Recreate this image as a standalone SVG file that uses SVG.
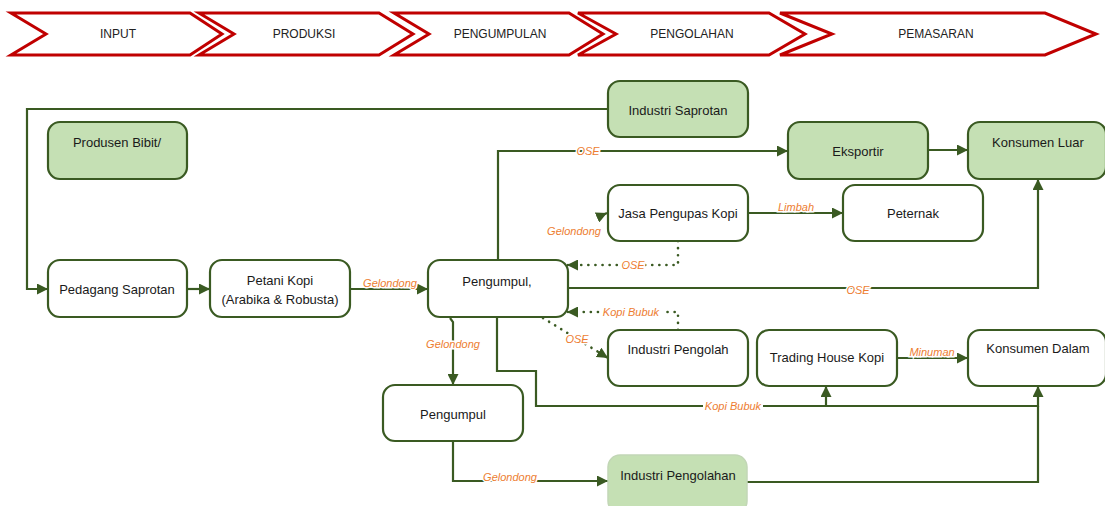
<svg xmlns="http://www.w3.org/2000/svg" width="1105" height="506" viewBox="0 0 1105 506">
<style>
.chev{fill:#fff;stroke:#C00000;stroke-width:3;stroke-linejoin:miter}
.ct{font-family:"Liberation Sans",Arial,sans-serif;font-size:12px;fill:#222;text-anchor:middle}
.box{fill:#fff;stroke:#3A5A22;stroke-width:2.2}
.gbox{fill:#C5E0B4;stroke:#3A5A22;stroke-width:2.2}
.nt{font-family:"Liberation Sans",Arial,sans-serif;font-size:13px;fill:#1a1a1a;text-anchor:middle}
.ln{fill:none;stroke:#3A5A22;stroke-width:2.2}
.dot{fill:none;stroke:#3A5A22;stroke-width:2.6;stroke-dasharray:0.1 7;stroke-linecap:round}
.lb{font-family:"Liberation Sans",Arial,sans-serif;font-size:11px;font-style:italic;fill:#ED7D31;text-anchor:middle;stroke:#fff;stroke-width:3;paint-order:stroke}
</style>
<defs>
<marker id="ah" markerWidth="11" markerHeight="11" refX="11" refY="5.5" orient="auto" markerUnits="userSpaceOnUse">
<path d="M0,0 L11,5.5 L0,11 z" fill="#3A5A22"/>
</marker>
</defs>
<rect width="1105" height="506" fill="#fff"/>
<g id="stages">
<polygon class="chev" points="11,13 190,13 222,34 190,55 11,55 46,34"/>
<text class="ct" x="118" y="38">INPUT</text>
<polygon class="chev" points="199,13 379,13 413,34 379,55 199,55 234,34"/>
<text class="ct" x="304" y="38">PRODUKSI</text>
<polygon class="chev" points="394,13 569,13 603,34 569,55 394,55 429,34"/>
<text class="ct" x="500" y="38">PENGUMPULAN</text>
<polygon class="chev" points="578,13 769,13 805,34 769,55 578,55 616,34"/>
<text class="ct" x="692" y="38">PENGOLAHAN</text>
<polygon class="chev" points="780,13 1045,13 1096,34 1045,55 780,55 832,34"/>
<text class="ct" x="936" y="38">PEMASARAN</text>
</g>
<g id="connectors">
<path class="ln" d="M608,109 H27 V289 H48" marker-end="url(#ah)"/>
<path class="ln" d="M187,289 H210" marker-end="url(#ah)"/>
<path class="ln" d="M350,289 H428" marker-end="url(#ah)"/>
<path class="ln" d="M498,260 V151 H788" marker-end="url(#ah)"/>
<path class="ln" d="M928,150 H968" marker-end="url(#ah)"/>
<path class="ln" d="M748,213 H843" marker-end="url(#ah)"/>
<path class="dot" d="M678,241 V265 H572"/>
<path class="ln" d="M574,265 H567" marker-end="url(#ah)" stroke-width="0"/>
<path class="dot" d="M540,262 H560"/>
<path class="ln" d="M598,217 L607,213" marker-end="url(#ah)" stroke-width="0"/>
<path class="dot" d="M678,330 V312 H664"/>
<path class="dot" d="M598,312 H572"/>
<path class="ln" d="M574,312 H567" marker-end="url(#ah)" stroke-width="0"/>
<path class="dot" d="M543,318 L600,353"/>
<path class="ln" d="M598,352 L608,358" marker-end="url(#ah)" stroke-width="0"/>
<path class="ln" d="M450,318 L453,322 V385" marker-end="url(#ah)"/>
<path class="ln" d="M497,317 V371 H536 V406 H703"/>
<path class="ln" d="M763,406 H1038 V386" marker-end="url(#ah)"/>
<path class="ln" d="M826,406 V386" marker-end="url(#ah)"/>
<path class="ln" d="M568,288 H1038 V179" marker-end="url(#ah)"/>
<path class="ln" d="M897,358 H968" marker-end="url(#ah)"/>
<path class="ln" d="M453,441 V481 H608" marker-end="url(#ah)"/>
<path class="ln" d="M747,482 H1038 V406"/>
<text class="lb" x="390" y="287">Gelondong</text>
<text class="lb" x="588" y="155">OSE</text>
<text class="lb" x="796" y="211">Limbah</text>
<text class="lb" x="574" y="235">Gelondong</text>
<text class="lb" x="633" y="269">OSE</text>
<text class="lb" x="631" y="316">Kopi Bubuk</text>
<text class="lb" x="577" y="343">OSE</text>
<text class="lb" x="453" y="348">Gelondong</text>
<text class="lb" x="733" y="410">Kopi Bubuk</text>
<text class="lb" x="858" y="294">OSE</text>
<text class="lb" x="932" y="356">Minuman</text>
<text class="lb" x="510" y="481">Gelondong</text>
</g>
<g id="produsen-bibit"><rect class="gbox" x="48" y="122" width="139" height="57" rx="12"/><text class="nt" x="117" y="147">Produsen Bibit/</text></g>
<g id="industri-saprotan"><rect class="gbox" x="608" y="81" width="140" height="56" rx="12"/><text class="nt" x="678" y="115">Industri Saprotan</text></g>
<g id="pedagang-saprotan"><rect class="box" x="48" y="260" width="139" height="57" rx="12"/><text class="nt" x="117" y="294">Pedagang Saprotan</text></g>
<g id="petani-kopi"><rect class="box" x="210" y="260" width="140" height="57" rx="12"/><text class="nt" x="280" y="285">Petani Kopi</text><text class="nt" x="280" y="304">(Arabika &amp; Robusta)</text></g>
<g id="pengumpul-1"><rect class="box" x="428" y="260" width="140" height="57" rx="12"/><text class="nt" x="497" y="286">Pengumpul,</text></g>
<g id="eksportir"><rect class="gbox" x="788" y="122" width="140" height="57" rx="12"/><text class="nt" x="858" y="156">Eksportir</text></g>
<g id="konsumen-luar"><rect class="gbox" x="968" y="122" width="138" height="57" rx="12"/><text class="nt" x="1038" y="147">Konsumen Luar</text></g>
<g id="jasa-pengupas"><rect class="box" x="608" y="185" width="140" height="56" rx="12"/><text class="nt" x="678" y="218">Jasa Pengupas Kopi</text></g>
<g id="peternak"><rect class="box" x="843" y="185" width="140" height="56" rx="12"/><text class="nt" x="913" y="218">Peternak</text></g>
<g id="industri-pengolah"><rect class="box" x="608" y="330" width="140" height="56" rx="12"/><text class="nt" x="678" y="354">Industri Pengolah</text></g>
<g id="trading-house"><rect class="box" x="757" y="330" width="140" height="56" rx="12"/><text class="nt" x="827" y="362">Trading House Kopi</text></g>
<g id="konsumen-dalam"><rect class="box" x="968" y="330" width="138" height="56" rx="12"/><text class="nt" x="1038" y="353">Konsumen Dalam</text></g>
<g id="pengumpul-2"><rect class="box" x="383" y="385" width="140" height="56" rx="12"/><text class="nt" x="453" y="419">Pengumpul</text></g>
<g id="industri-pengolahan"><rect x="608" y="455" width="139" height="58" rx="12" fill="#C5E0B4" stroke="#C2D6B6" stroke-width="1.5"/><text class="nt" x="678" y="480">Industri Pengolahan</text></g>
</svg>
